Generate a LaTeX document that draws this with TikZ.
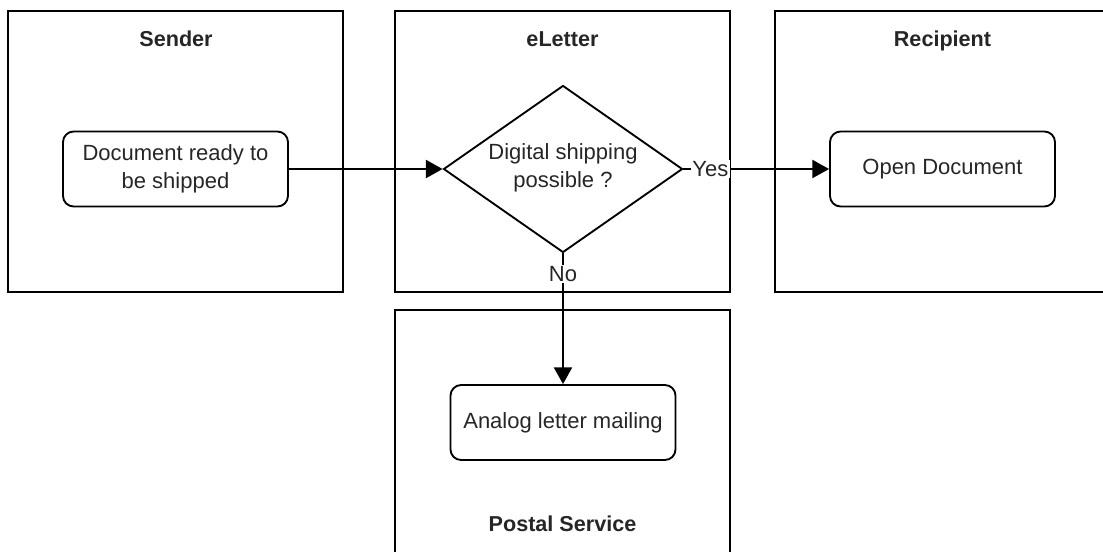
\documentclass[tikz,border=0pt]{standalone}
\usepackage{fontspec}
\setmainfont{Liberation Sans}
\usetikzlibrary{shapes.geometric,arrows.meta}

\tikzset{
  lane/.style={draw, line width=1.4pt, rectangle, inner sep=0pt},
  lanetitle/.style={anchor=base, font=\fontsize{16.2pt}{20pt}\selectfont\bfseries, text=black!85},
  stepbox/.style={draw, line width=1.4pt, rectangle, rounded corners=8pt,
    minimum width=168.75pt, minimum height=56.25pt, align=center,
    font=\fontsize{16.5pt}{21pt}\selectfont, text=black!85},
  decision/.style={draw, line width=1.4pt, diamond, inner sep=0pt,
    minimum width=179.25pt, minimum height=125.25pt},
  plaintext/.style={align=center, font=\fontsize{16.5pt}{21pt}\selectfont, text=black!85},
  flow/.style={line width=1.5pt, -{Triangle[length=12.5pt, width=13.5pt]}},
  edgelabel/.style={fill=white, inner sep=1pt, font=\fontsize{16.5pt}{20pt}\selectfont, text=black!85}
}

\begin{document}
\begin{tikzpicture}[x=0.75pt, y=-0.75pt]
  \useasboundingbox (0,0) rectangle (1103,551);
  \clip (0,0) rectangle (1103,551);

  % swimlanes
  \node[lane, minimum width=251.25pt, minimum height=210.75pt] (sender) at (175.5,151.5) {};
  \node[lane, minimum width=251.25pt, minimum height=210.75pt] (eletter) at (562.5,151.5) {};
  \node[lane, minimum width=251.25pt, minimum height=210.75pt] (recipient) at (942.5,151.5) {};
  \node[lane, minimum width=251.25pt, minimum height=187.5pt] (postal) at (562.5,435) {};

  \node[lanetitle] (tsender) at (176,46) {Sender};
  \node[lanetitle] (teletter) at (562.5,46) {eLetter};
  \node[lanetitle] (trecipient) at (942.5,46) {Recipient};
  \node[lanetitle] (tpostal) at (562.5,531) {Postal Service};

  % steps
  \node[stepbox] (ready) at (175.5,169) {Document ready to\\be shipped};
  \node[decision] (digital) at (563,169) {};
  \node[plaintext] (digitaltext) at (563,168) {Digital shipping\\possible ?};
  \node[stepbox] (open) at (942.5,169) {Open Document};
  \node[stepbox] (analog) at (563,422.5) {Analog letter mailing};

  % connectors
  \draw[flow] (ready.east) -- (digital.west);
  \draw[flow] (digital.east) -- node[edgelabel, pos=0.185] (yes) {Yes} (open.west);
  \draw[flow] (digital.south) -- node[edgelabel, pos=0.16] (no) {No} (analog.north);
\end{tikzpicture}
\end{document}
